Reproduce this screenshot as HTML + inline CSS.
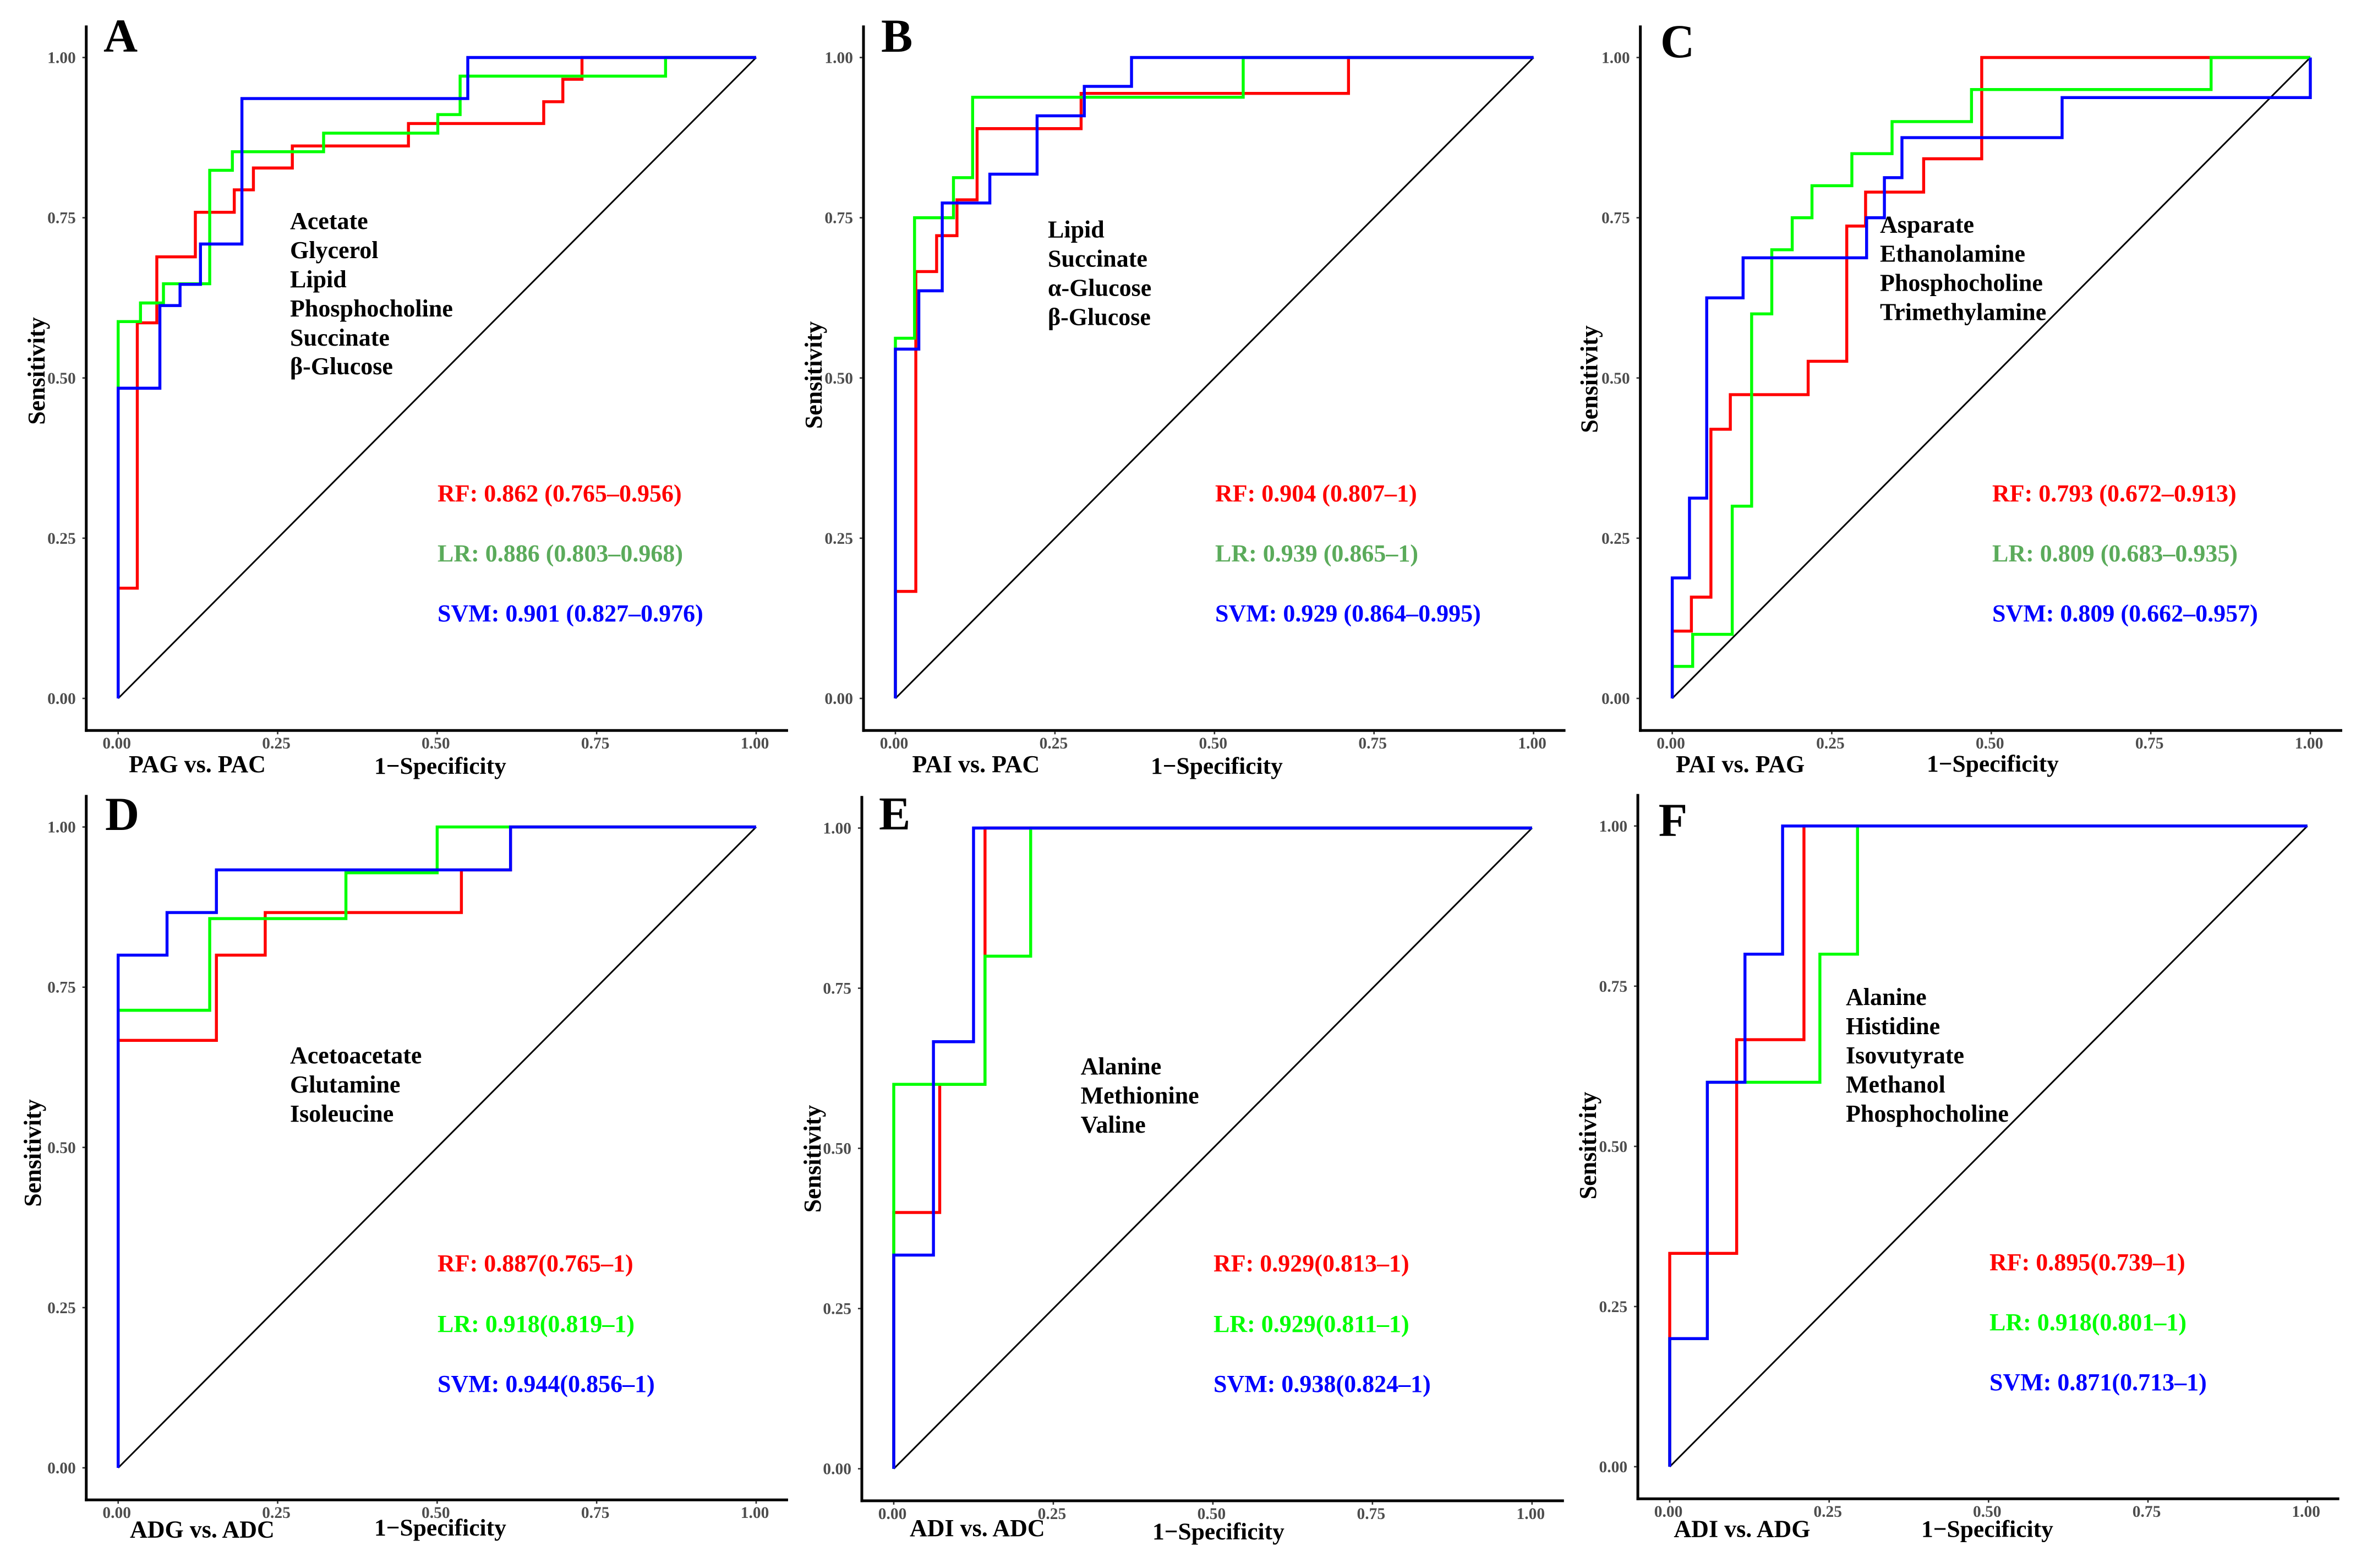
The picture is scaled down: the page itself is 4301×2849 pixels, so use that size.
<!DOCTYPE html>
<html lang="en">
<head>
<meta charset="utf-8">
<title>ROC curves</title>
<style>
html,body{margin:0;padding:0;background:#fff;}
svg{display:block;}
text{font-family:"Liberation Serif","DejaVu Serif",serif;font-weight:bold;}
.meta{font-size:44px;fill:#000;}
.auc{font-size:44px;}
.rf{fill:#ff0000;}
.lr-muted{fill:#5bab5b;}
.lr{fill:#00ff00;}
.svm{fill:#0000ff;}
.cmp{font-size:44px;fill:#000;}
.xt{font-size:43.5px;fill:#000;}
.yt{font-size:44px;fill:#000;text-anchor:middle;}
.letter{font-size:86px;fill:#000;}
.tick{font-size:29.5px;fill:#4d4d4d;}
</style>
</head>
<body>
<svg id="figure" xmlns="http://www.w3.org/2000/svg" width="4301" height="2849" viewBox="0 0 4301 2849">
<rect x="0" y="0" width="4301" height="2849" fill="#ffffff"/>

<g id="panel-a">
<g id="marks-a"></g>
<text class="letter" x="188" y="94">A</text>
<text class="meta" x="527" y="416">Acetate</text>
<text class="meta" x="527" y="469">Glycerol</text>
<text class="meta" x="527" y="522">Lipid</text>
<text class="meta" x="527" y="575">Phosphocholine</text>
<text class="meta" x="527" y="628">Succinate</text>
<text class="meta" x="527" y="680">β-Glucose</text>
<text class="auc rf" x="795" y="911">RF: 0.862 (0.765–0.956)</text>
<text class="auc lr-muted" x="795" y="1020">LR: 0.886 (0.803–0.968)</text>
<text class="auc svm" x="795" y="1129">SVM: 0.901 (0.827–0.976)</text>
<text class="cmp" x="234" y="1403">PAG vs. PAC</text>
<text class="xt" x="680" y="1406">1−Specificity</text>
<text class="yt" transform="translate(81 674) rotate(-90)">Sensitivity</text>
</g>

<g id="panel-b">
<g id="marks-b"></g>
<text class="letter" x="1601" y="94">B</text>
<text class="meta" x="1904" y="431.5">Lipid</text>
<text class="meta" x="1904" y="484.5">Succinate</text>
<text class="meta" x="1904" y="537.5">α-Glucose</text>
<text class="meta" x="1904" y="590.5">β-Glucose</text>
<text class="auc rf" x="2208" y="911">RF: 0.904 (0.807–1)</text>
<text class="auc lr-muted" x="2208" y="1020">LR: 0.939 (0.865–1)</text>
<text class="auc svm" x="2208" y="1129">SVM: 0.929 (0.864–0.995)</text>
<text class="cmp" x="1657.5" y="1403">PAI vs. PAC</text>
<text class="xt" x="2091" y="1406">1−Specificity</text>
<text class="yt" transform="translate(1493 681.5) rotate(-90)">Sensitivity</text>
</g>

<g id="panel-c">
<g id="marks-c"></g>
<text class="letter" x="3017" y="104">C</text>
<text class="meta" x="3416" y="422.6">Asparate</text>
<text class="meta" x="3416" y="475.6">Ethanolamine</text>
<text class="meta" x="3416" y="528.6">Phosphocholine</text>
<text class="meta" x="3416" y="581.6">Trimethylamine</text>
<text class="auc rf" x="3620" y="911">RF: 0.793 (0.672–0.913)</text>
<text class="auc lr-muted" x="3620" y="1020">LR: 0.809 (0.683–0.935)</text>
<text class="auc svm" x="3620" y="1129">SVM: 0.809 (0.662–0.957)</text>
<text class="cmp" x="3045" y="1403">PAI vs. PAG</text>
<text class="xt" x="3501" y="1402">1−Specificity</text>
<text class="yt" transform="translate(2902.7 689) rotate(-90)">Sensitivity</text>
</g>

<g id="panel-d">
<g id="marks-d"></g>
<text class="letter" x="191" y="1508">D</text>
<text class="meta" x="527" y="1932">Acetoacetate</text>
<text class="meta" x="527" y="1985">Glutamine</text>
<text class="meta" x="527" y="2038">Isoleucine</text>
<text class="auc rf" x="795" y="2310">RF: 0.887(0.765–1)</text>
<text class="auc lr" x="795" y="2420">LR: 0.918(0.819–1)</text>
<text class="auc svm" x="795" y="2529">SVM: 0.944(0.856–1)</text>
<text class="cmp" x="236" y="2793.6">ADG vs. ADC</text>
<text class="xt" x="680" y="2790">1−Specificity</text>
<text class="yt" transform="translate(74 2095) rotate(-90)">Sensitivity</text>
</g>

<g id="panel-e">
<g id="marks-e"></g>
<text class="letter" x="1597" y="1507">E</text>
<text class="meta" x="1963.6" y="1952">Alanine</text>
<text class="meta" x="1963.6" y="2005">Methionine</text>
<text class="meta" x="1963.6" y="2058">Valine</text>
<text class="auc rf" x="2205" y="2310">RF: 0.929(0.813–1)</text>
<text class="auc lr" x="2205" y="2420">LR: 0.929(0.811–1)</text>
<text class="auc svm" x="2205" y="2529">SVM: 0.938(0.824–1)</text>
<text class="cmp" x="1653" y="2791">ADI vs. ADC</text>
<text class="xt" x="2094" y="2797">1−Specificity</text>
<text class="yt" transform="translate(1491 2105.6) rotate(-90)">Sensitivity</text>
</g>

<g id="panel-f">
<g id="marks-f"></g>
<text class="letter" x="3013.6" y="1519">F</text>
<text class="meta" x="3354" y="1826">Alanine</text>
<text class="meta" x="3354" y="1879">Histidine</text>
<text class="meta" x="3354" y="1932">Isovutyrate</text>
<text class="meta" x="3354" y="1985">Methanol</text>
<text class="meta" x="3354" y="2038">Phosphocholine</text>
<text class="auc rf" x="3615" y="2308">RF: 0.895(0.739–1)</text>
<text class="auc lr" x="3615" y="2417">LR: 0.918(0.801–1)</text>
<text class="auc svm" x="3615" y="2526">SVM: 0.871(0.713–1)</text>
<text class="cmp" x="3041.4" y="2792.6">ADI vs. ADG</text>
<text class="xt" x="3491" y="2792.6">1−Specificity</text>
<text class="yt" transform="translate(2900 2081.5) rotate(-90)">Sensitivity</text>
</g>
</svg>

<script>
// Axis tick values and labels
const tickValues = [0, 0.25, 0.5, 0.75, 1];
const tickLabels = ["0.00", "0.25", "0.50", "0.75", "1.00"];

// Each curve is a step path: at fpr[i] it rises to tpr[i], then runs across to fpr[i+1].
const aRfFpr = [0, .030, .0606, .121, .182, .212, .273, .455, .667, .697, .727, 1];
const aRfTpr = [.172, .586, .689, .7585, .7935, .8276, .862, .897, .931, .966, 1, 1];
const aLrFpr = [0, .035, .071, .1435, .179, .322, .501, .536, .858, 1];
const aLrTpr = [.588, .617, .647, .824, .853, .882, .911, .971, 1, 1];
const aSvmFpr = [0, .0654, .097, .129, .194, .548, 1];
const aSvmTpr = [.484, .613, .646, .709, .936, 1, 1];

const bRfFpr = [0, .032, .0646, .0965, .128, .291, .71, 1];
const bRfTpr = [.167, .666, .722, .778, .889, .944, 1, 1];
const bLrFpr = [0, .030, .091, .121, .545, 1];
const bLrTpr = [.562, .75, .8125, .938, 1, 1];
const bSvmFpr = [0, .0367, .0734, .148, .222, .296, .370, 1];
const bSvmTpr = [.545, .636, .773, .818, .909, .955, 1, 1];

const cRfFpr = [0, .030, .0606, .091, .213, .2735, .303, .394, .485, 1];
const cRfTpr = [.105, .158, .42, .474, .526, .737, .79, .842, 1, 1];
const cLrFpr = [0, .032, .094, .1244, .156, .188, .219, .2815, .3445, .469, .8445, 1];
const cLrTpr = [.05, .10, .30, .60, .70, .75, .80, .85, .90, .95, 1, 1];
const cSvmFpr = [0, .027, .054, .111, .3046, .3325, .36, .611, 1];
const cSvmTpr = [.188, .3125, .625, .6875, .75, .8125, .875, .9375, 1];

const dRfFpr = [0, .154, .2305, .538, .615, 1];
const dRfTpr = [.667, .80, .8665, .933, 1, 1];
const dLrFpr = [0, .1435, .357, .5, 1];
const dLrTpr = [.714, .857, .9285, 1, 1];
const dSvmFpr = [0, .0766, .154, .615, 1];
const dSvmTpr = [.80, .8665, .933, 1, 1];

const eRfFpr = [0, .072, .143, 1];
const eRfTpr = [.40, .60, 1, 1];
const eLrFpr = [0, .143, .2145, 1];
const eLrTpr = [.60, .80, 1, 1];
const eSvmFpr = [0, .0622, .125, 1];
const eSvmTpr = [.3335, .6665, 1, 1];

const fRfFpr = [0, .105, .2105, 1];
const fRfTpr = [.333, .6665, 1, 1];
const fLrFpr = [0, .059, .2355, .2945, 1];
const fLrTpr = [.2, .60, .80, 1, 1];
const fSvmFpr = [0, .059, .118, .177, 1];
const fSvmTpr = [.2, .60, .80, 1, 1];

const RED = "#ff0000", GREEN = "#00ff00", BLUE = "#0000ff";
const SVG_NS = "http://www.w3.org/2000/svg";

function makeX(frame) { return v => frame.x0 + v * (frame.x1 - frame.x0); }
function makeY(frame) { return v => frame.y0 + v * (frame.y1 - frame.y0); }

function stepPath(fpr, tpr, sx, sy) {
  let d = "M" + sx(0).toFixed(2) + " " + sy(0).toFixed(2);
  for (let i = 0; i < fpr.length; i++) {
    d += " L" + sx(fpr[i]).toFixed(2) + " " + sy(i === 0 ? 0 : tpr[i - 1]).toFixed(2);
    d += " L" + sx(fpr[i]).toFixed(2) + " " + sy(tpr[i]).toFixed(2);
  }
  return d;
}

function addLine(parent, x1, y1, x2, y2, stroke, width) {
  const el = document.createElementNS(SVG_NS, "line");
  el.setAttribute("x1", x1);
  el.setAttribute("y1", y1);
  el.setAttribute("x2", x2);
  el.setAttribute("y2", y2);
  el.setAttribute("stroke", stroke);
  el.setAttribute("stroke-width", width);
  parent.appendChild(el);
  return el;
}

function addTickLabel(parent, x, y, anchor, label) {
  const el = document.createElementNS(SVG_NS, "text");
  el.setAttribute("class", "tick");
  el.setAttribute("x", x);
  el.setAttribute("y", y);
  el.setAttribute("text-anchor", anchor);
  el.textContent = label;
  parent.appendChild(el);
  return el;
}

function drawPanel(id, frame, curves) {
  const g = document.getElementById("marks-" + id);
  const sx = makeX(frame);
  const sy = makeY(frame);
  const pad = 0.05;
  const left = sx(-pad) , right = sx(1 + pad), bottom = sy(-pad), top = sy(1 + pad);

  const yAxis = addLine(g, left, top, left, bottom + 2.5, "#000000", 5);
  
  
  const xAxis = addLine(g, left - 2.5, bottom, right, bottom, "#000000", 5);
  
  

  tickValues.forEach((v, i) => {
    const yTick = addLine(g, left - 7, sy(v), left - 2, sy(v), "#333333", 2.6);
    
    
    const xTick = addLine(g, sx(v), bottom + 2, sx(v), bottom + 7, "#333333", 2.6);
    
    
    const yLabel = addTickLabel(g, left - 19, sy(v) + 10, "end", tickLabels[i]);
    
    
    const xLabel = addTickLabel(g, sx(v) - 2.5, bottom + 33, "middle", tickLabels[i]);
    
    
  });

  const diagonal = addLine(g, sx(0), sy(0), sx(1), sy(1), "#000000", 3);
  
  

  curves.forEach(c => {
    const p = document.createElementNS(SVG_NS, "path");
    p.setAttribute("d", stepPath(c.fpr, c.tpr, sx, sy));
    p.setAttribute("fill", "none");
    p.setAttribute("stroke", c.color);
    p.setAttribute("stroke-width", "5.4");
    p.setAttribute("stroke-linejoin", "miter");
    
    
    g.appendChild(p);
  });
}

drawPanel("a", {x0: 214.7, x1: 1374, y0: 1269, y1: 104.5}, [
  {name: "rf-curve", color: RED, fpr: aRfFpr, tpr: aRfTpr},
  {name: "lr-curve", color: GREEN, fpr: aLrFpr, tpr: aLrTpr},
  {name: "svm-curve", color: BLUE, fpr: aSvmFpr, tpr: aSvmTpr}
]);
drawPanel("b", {x0: 1627, x1: 2786.6, y0: 1269, y1: 104.5}, [
  {name: "rf-curve", color: RED, fpr: bRfFpr, tpr: bRfTpr},
  {name: "lr-curve", color: GREEN, fpr: bLrFpr, tpr: bLrTpr},
  {name: "svm-curve", color: BLUE, fpr: bSvmFpr, tpr: bSvmTpr}
]);
drawPanel("c", {x0: 3038.6, x1: 4198, y0: 1269, y1: 104.5}, [
  {name: "rf-curve", color: RED, fpr: cRfFpr, tpr: cRfTpr},
  {name: "lr-curve", color: GREEN, fpr: cLrFpr, tpr: cLrTpr},
  {name: "svm-curve", color: BLUE, fpr: cSvmFpr, tpr: cSvmTpr}
]);
drawPanel("d", {x0: 214.7, x1: 1374, y0: 2667, y1: 1502.6}, [
  {name: "rf-curve", color: RED, fpr: dRfFpr, tpr: dRfTpr},
  {name: "lr-curve", color: GREEN, fpr: dLrFpr, tpr: dLrTpr},
  {name: "svm-curve", color: BLUE, fpr: dSvmFpr, tpr: dSvmTpr}
]);
drawPanel("e", {x0: 1624, x1: 2783.8, y0: 2668.7, y1: 1504.5}, [
  {name: "rf-curve", color: RED, fpr: eRfFpr, tpr: eRfTpr},
  {name: "lr-curve", color: GREEN, fpr: eLrFpr, tpr: eLrTpr},
  {name: "svm-curve", color: BLUE, fpr: eSvmFpr, tpr: eSvmTpr}
]);
drawPanel("f", {x0: 3034, x1: 4192.7, y0: 2665, y1: 1500.8}, [
  {name: "rf-curve", color: RED, fpr: fRfFpr, tpr: fRfTpr},
  {name: "lr-curve", color: GREEN, fpr: fLrFpr, tpr: fLrTpr},
  {name: "svm-curve", color: BLUE, fpr: fSvmFpr, tpr: fSvmTpr}
]);
</script>
</body>
</html>
